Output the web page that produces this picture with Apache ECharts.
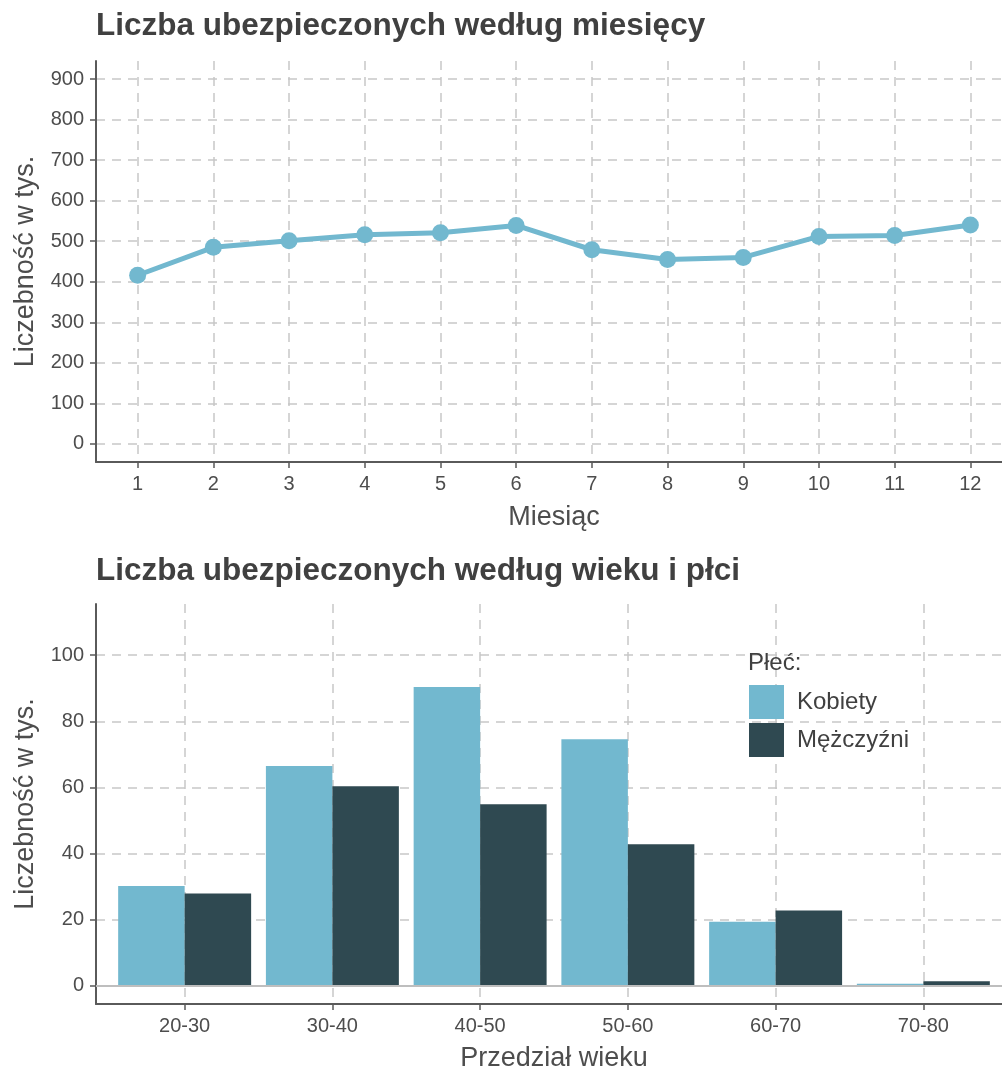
<!DOCTYPE html>
<html>
<head>
<meta charset="utf-8">
<script src="https://cdn.jsdelivr.net/npm/echarts@6/dist/echarts.min.js"></script>
<style>
    html, body {margin: 0; padding: 0; background: #fff;}
    #main {width: 1002px; height: 1073px;}
</style>
</head>
<body>
<div id="main"></div>
<script>
//dane miesięczne (w tys.)
var months = [1, 2, 3, 4, 5, 6, 7, 8, 9, 10, 11, 12];
var insured = [416, 485, 501, 516, 521, 539, 479, 455, 460, 512, 514, 540];
var yTicksTop = [0, 100, 200, 300, 400, 500, 600, 700, 800, 900];

//dane wg wieku i płci (w tys.)
var ageGroups = ['20-30', '30-40', '40-50', '50-60', '60-70', '70-80'];
var women = [30.2, 66.5, 90.4, 74.6, 19.4, 0.6];
var men = [27.9, 60.4, 54.9, 42.8, 22.8, 1.4];
var yTicksBottom = [0, 20, 40, 60, 80, 100];
var groupPos = [1, 2, 3, 4, 5, 6];

var font = 'Liberation Sans';
var txt = '#4D4D4D';
var gridLine = {show: true, lineStyle: {color: '#C8C8C8', width: 1.5, type: [9, 7]}};
var axLine = {show: true, onZero: false, lineStyle: {color: '#5A5A5A', width: 2}};
var axTick = function (vals) {
    return {show: true, length: 6, customValues: vals, lineStyle: {color: '#5A5A5A', width: 1.5}};
};

var myChart = echarts.init(document.getElementById('main'));

var option = {
    animation: false,
    textStyle: {fontFamily: font},
    title: [
        {
            text: 'Liczba ubezpieczonych według miesięcy',
            left: 96, top: 10, padding: 0,
            textStyle: {fontSize: 31.5, fontWeight: 'bold', color: '#404040', fontFamily: font}
        },
        {
            text: 'Liczba ubezpieczonych według wieku i płci',
            left: 96, top: 555, padding: 0,
            textStyle: {fontSize: 31.5, fontWeight: 'bold', color: '#404040', fontFamily: font}
        },
        {
            text: 'Płeć:',
            left: 748, top: 651, padding: 0,
            textStyle: {fontSize: 24, fontWeight: 'normal', color: '#404040', fontFamily: font}
        }
    ],
    legend: {
        orient: 'vertical',
        left: 749, top: 685,
        padding: 0,
        itemWidth: 35, itemHeight: 34, itemGap: 4,
        icon: 'rect',
        data: ['Kobiety', 'Mężczyźni'],
        textStyle: {fontSize: 24, color: '#404040', fontFamily: font, padding: [0, 0, 0, 8]}
    },
    grid: [
        {left: 96, top: 61, width: 916, height: 401, outerBoundsMode: 'none', containLabel: false},
        {left: 96, top: 604, width: 916, height: 400, outerBoundsMode: 'none', containLabel: false}
    ],
    xAxis: [
        {
            type: 'value', gridIndex: 0,
            min: 0.45, max: 12.55,
            name: 'Miesiąc', nameLocation: 'middle', nameGap: 42,
            nameTextStyle: {fontSize: 27, color: txt, fontFamily: font},
            axisLine: axLine,
            axisTick: axTick(months),
            axisLabel: {customValues: months, fontSize: 20, color: txt, margin: 12, fontFamily: font},
            splitLine: gridLine
        },
        {
            type: 'value', gridIndex: 1,
            min: 0.4, max: 6.6,
            name: 'Przedział wieku', nameLocation: 'middle', nameGap: 41,
            nameTextStyle: {fontSize: 27, color: txt, fontFamily: font},
            axisLine: axLine,
            axisTick: axTick(groupPos),
            axisLabel: {
                customValues: groupPos, fontSize: 20, color: txt, margin: 12, fontFamily: font,
                formatter: function (v) { return ageGroups[Math.round(v) - 1]; }
            },
            splitLine: gridLine
        }
    ],
    yAxis: [
        {
            type: 'value', gridIndex: 0,
            min: -45, max: 945,
            name: 'Liczebność w tys.', nameLocation: 'middle', nameGap: 57,
            nameTextStyle: {fontSize: 27, color: txt, fontFamily: font},
            axisLine: axLine,
            axisTick: axTick(yTicksTop),
            axisLabel: {customValues: yTicksTop, fontSize: 20, color: txt, margin: 12, fontFamily: font},
            splitLine: gridLine
        },
        {
            type: 'value', gridIndex: 1,
            min: -5.5, max: 115.5,
            name: 'Liczebność w tys.', nameLocation: 'middle', nameGap: 57,
            nameTextStyle: {fontSize: 27, color: txt, fontFamily: font},
            axisLine: axLine,
            axisTick: axTick(yTicksBottom),
            axisLabel: {customValues: yTicksBottom, fontSize: 20, color: txt, margin: 12, fontFamily: font},
            splitLine: gridLine
        }
    ],
    series: [
        {
            name: 'Ubezpieczeni',
            type: 'line',
            xAxisIndex: 0, yAxisIndex: 0,
            data: months.map(function (m, i) { return [m, insured[i]]; }),
            symbol: 'circle', symbolSize: 17,
            lineStyle: {color: '#72B8CF', width: 5},
            itemStyle: {color: '#72B8CF'}
        },
        {
            name: 'Kobiety',
            type: 'bar',
            xAxisIndex: 1, yAxisIndex: 1,
            data: groupPos.map(function (p, i) { return [p, women[i]]; }),
            barCategoryGap: '10%', barGap: '0%',
            itemStyle: {color: '#72B8CF'},
            markLine: {
                silent: true, symbol: 'none',
                label: {show: false},
                lineStyle: {color: '#BEBEBE', type: 'solid', width: 2},
                data: [{yAxis: 0}]
            }
        },
        {
            name: 'Mężczyźni',
            type: 'bar',
            xAxisIndex: 1, yAxisIndex: 1,
            data: groupPos.map(function (p, i) { return [p, men[i]]; }),
            barCategoryGap: '10%', barGap: '0%',
            itemStyle: {color: '#2F4951'}
        }
    ]
};

myChart.setOption(option);
</script>
</body>
</html>
